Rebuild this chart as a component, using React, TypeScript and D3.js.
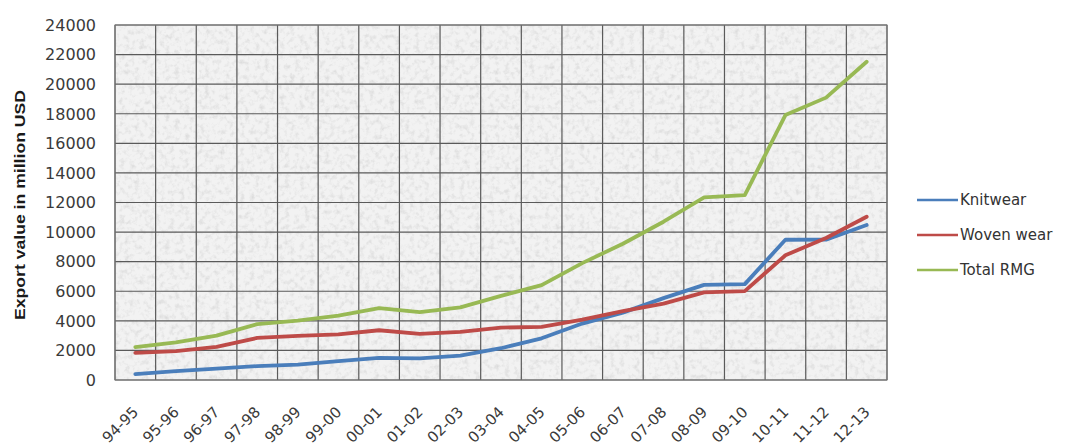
import React from "react";
import * as d3 from "d3";

const categories = ["94-95", "95-96", "96-97", "97-98", "98-99", "99-00", "00-01", "01-02", "02-03", "03-04", "04-05", "05-06", "06-07", "07-08", "08-09", "09-10", "10-11", "11-12", "12-13"];
const knitwear = [393, 598, 763, 940, 1035, 1270, 1496, 1459, 1654, 2148, 2819, 3817, 4554, 5533, 6429, 6483, 9482, 9486, 10476];
const wovenWear = [1835, 1949, 2238, 2843, 2985, 3082, 3364, 3125, 3258, 3538, 3598, 4084, 4658, 5167, 5919, 6013, 8432, 9603, 11040];
const totalRmg = [2228, 2547, 3001, 3782, 4020, 4349, 4860, 4584, 4912, 5686, 6418, 7901, 9211, 10700, 12348, 12497, 17914, 19090, 21516];
const yTicks = [0, 2000, 4000, 6000, 8000, 10000, 12000, 14000, 16000, 18000, 20000, 22000, 24000];

const series = [
  { name: "Knitwear", values: knitwear, color: "#4a7ebb" },
  { name: "Woven wear", values: wovenWear, color: "#be4b48" },
  { name: "Total RMG", values: totalRmg, color: "#98b954" },
];

const W = 1066, H = 447;
const plot = { left: 115, right: 887, top: 25, bottom: 380 };
const font = "'DejaVu Sans', sans-serif";

export default function App() {
  const x = d3.scaleBand<string>().domain(categories).range([plot.left, plot.right]);
  const y = d3.scaleLinear().domain([0, 24000]).range([plot.bottom, plot.top]);
  const cx = (c: string) => (x(c) as number) + x.bandwidth() / 2;

  const lineGen = d3.line<number>()
    .x((_, i) => cx(categories[i]))
    .y(d => y(d));

  // band edges = vertical grid lines
  const bounds = categories.map(c => x(c) as number).concat([plot.right]);

  return (
    <svg width={W} height={H} style={{ position: "absolute", left: 0, top: 0, background: "#fff" }}>
      <defs>
        <filter id="paper" x="0" y="0" width="100%" height="100%">
          <feTurbulence type="fractalNoise" baseFrequency="0.2" numOctaves="3" seed="4" />
          <feColorMatrix type="matrix" values="0 0 0 0 0.6  0 0 0 0 0.6  0 0 0 0 0.6  1.3 0 0 0 -0.6" />
        </filter>
      </defs>

      {/* plot background with paper texture */}
      <rect x={plot.left} y={plot.top} width={plot.right - plot.left} height={plot.bottom - plot.top} fill="#f2f2f2" />
      <rect x={plot.left} y={plot.top} width={plot.right - plot.left} height={plot.bottom - plot.top} filter="url(#paper)" />

      {/* grid */}
      {yTicks.map(t => (
        <line key={"h" + t} x1={plot.left} x2={plot.right} y1={y(t)} y2={y(t)} stroke="#5a5a5a" strokeWidth={1.2} />
      ))}
      {bounds.map((b, i) => (
        <line key={"v" + i} x1={b} x2={b} y1={plot.top} y2={plot.bottom} stroke="#5a5a5a" strokeWidth={1.2} />
      ))}
      <rect x={plot.left} y={plot.top} width={plot.right - plot.left} height={plot.bottom - plot.top} fill="none" stroke="#777" />

      {/* y ticks */}
      {yTicks.map(t => (
        <text key={"yt" + t} x={96} y={y(t)} dy="0.36em" textAnchor="end" fontFamily={font} fontSize={16} fill="#3a3a3a">{t}</text>
      ))}

      {/* x labels */}
      {categories.map(c => (
        <text key={"xl" + c} transform={`translate(${cx(c) + 4},${413}) rotate(-45)`} textAnchor="end" fontFamily={font} fontSize={15} fill="#3a3a3a">{c}</text>
      ))}

      {/* y axis title */}
      <text transform={`translate(25,${205}) rotate(-90)`} textAnchor="middle" fontFamily="'Liberation Sans', Arial, sans-serif" fontSize={14.5} fontWeight="bold" fill="#1a1a1a" textLength={230} lengthAdjust="spacingAndGlyphs">Export value in million USD</text>

      {/* lines */}
      {series.map(s => (
        <path key={s.name} d={lineGen(s.values) as string} fill="none" stroke={s.color} strokeWidth={3.8} strokeLinejoin="round" strokeLinecap="round" />
      ))}

      {/* legend */}
      {series.map((s, i) => (
        <g key={"lg" + s.name} transform={`translate(917,${200 + i * 35})`}>
          <line x1={0} x2={41} y1={0} y2={0} stroke={s.color} strokeWidth={2.5} />
          <text x={43} y={0} dy="0.36em" fontFamily={font} fontSize={15} fill="#333">{s.name}</text>
        </g>
      ))}
    </svg>
  );
}
